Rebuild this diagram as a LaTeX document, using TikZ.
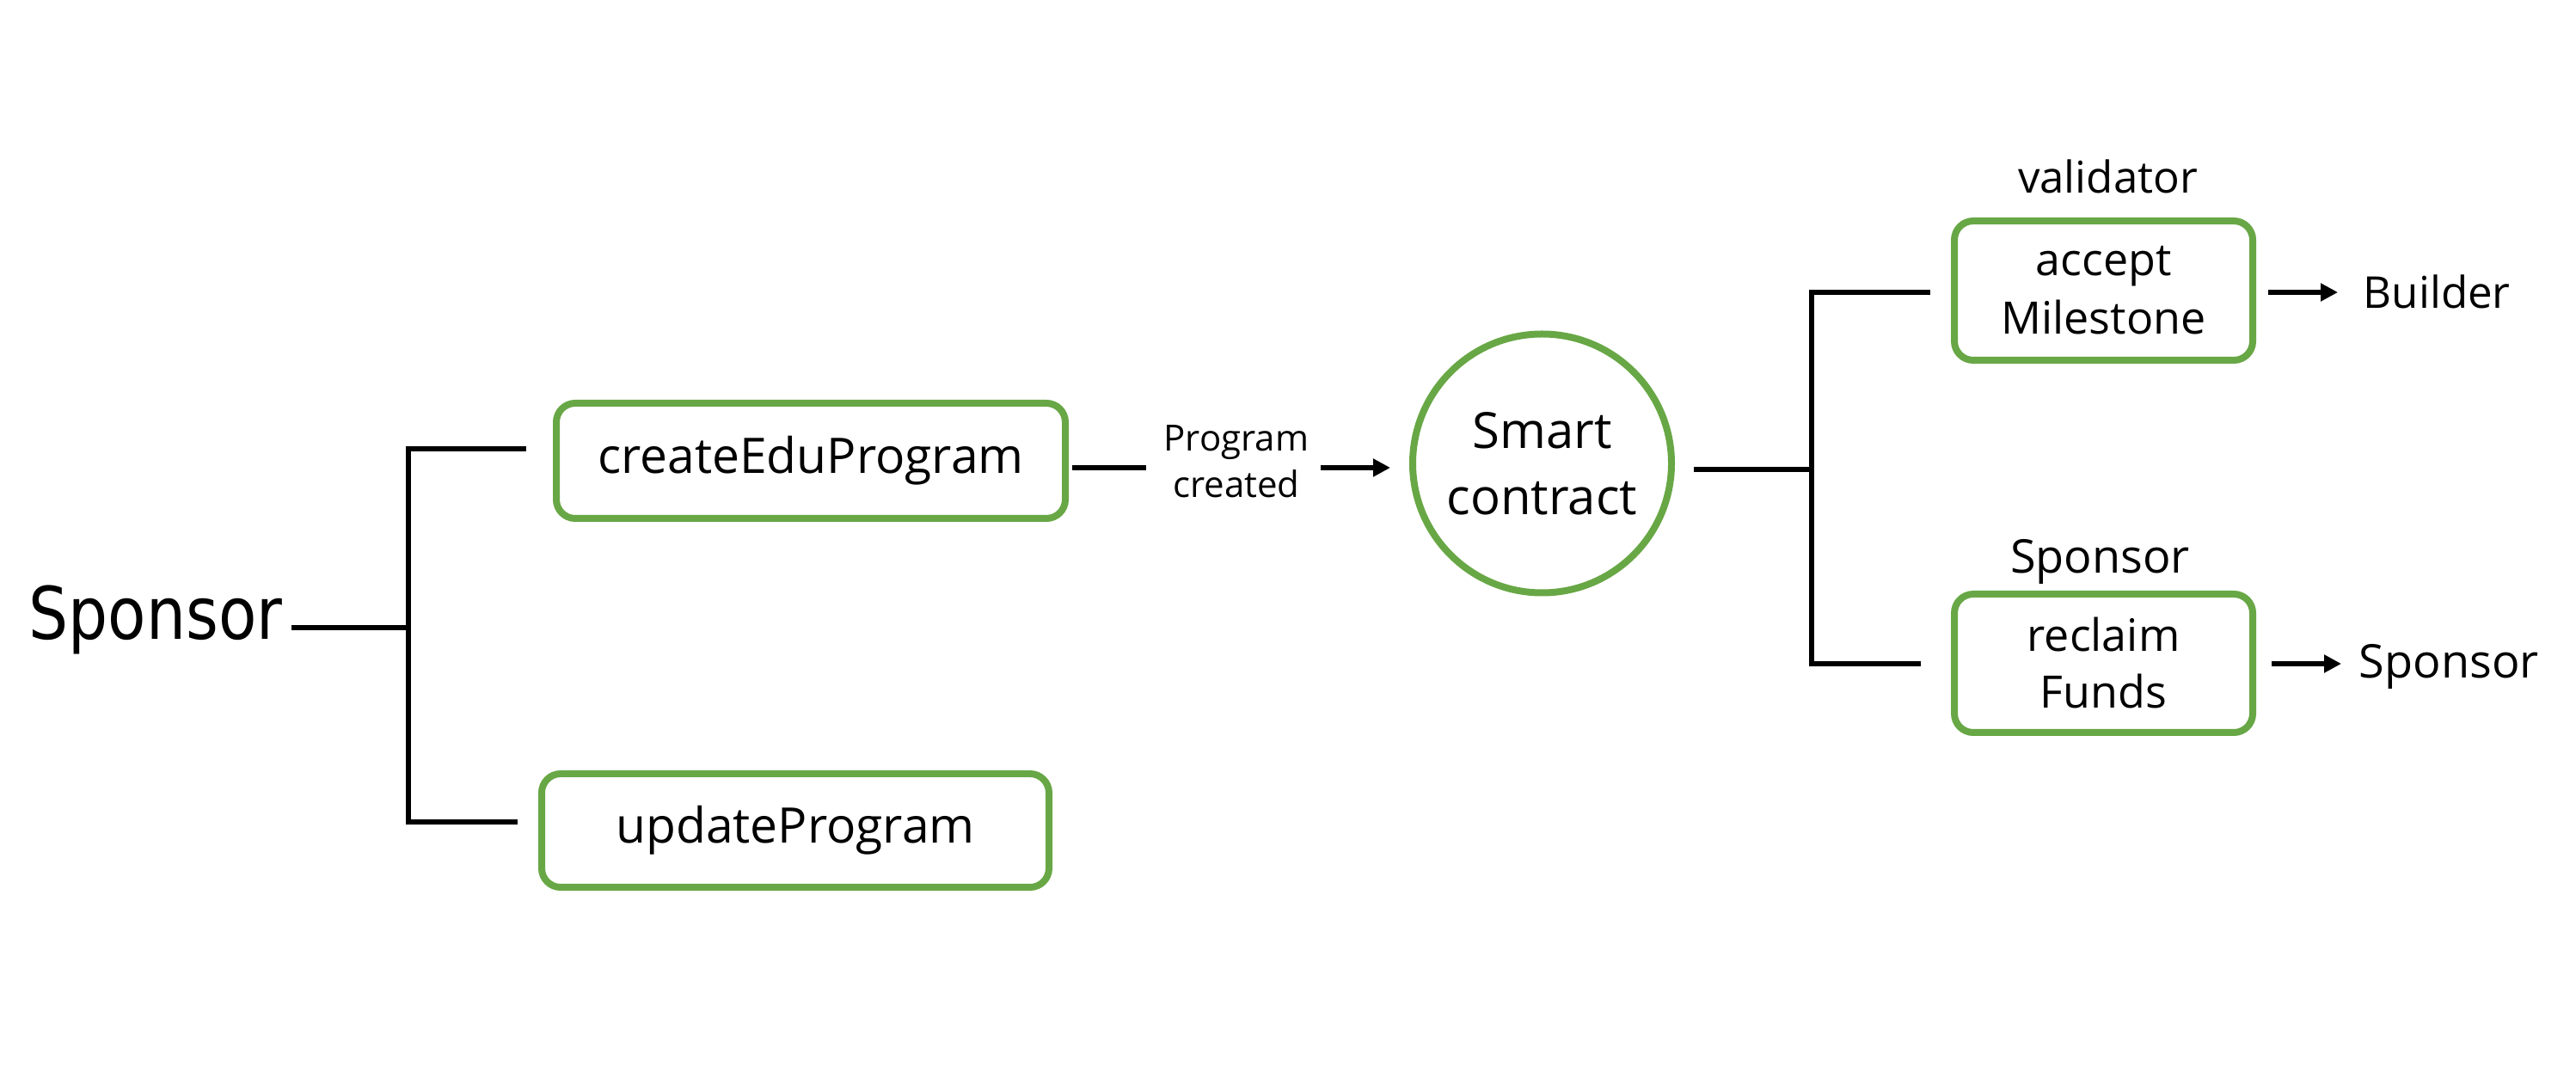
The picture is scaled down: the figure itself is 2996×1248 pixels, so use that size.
\documentclass[tikz,border=0pt]{standalone}
\usepackage{fontspec}
\setmainfont{Open Sans}
\newfontfamily\sponsorfont[FakeStretch=0.86]{DejaVu Sans}
\usetikzlibrary{arrows.meta,calc}
\definecolor{boxgreen}{RGB}{104,167,69}
\begin{document}
\begin{tikzpicture}[x=0.25pt,y=-0.25pt,
  fnbox/.style={draw=boxgreen, line width=2pt, rounded corners=5.5pt, fill=white, inner sep=0pt, align=center},
  scircle/.style={draw=boxgreen, line width=2pt, circle, fill=white, inner sep=0pt, align=center},
  conn/.style={line width=1.6pt, draw=black},
  arr/.style={conn, -{Triangle[length=5pt,width=5pt]}},
  lbl/.style={inner sep=0pt}]
\useasboundingbox (0,0) rectangle (2996,1248);

% boxes
\node[fnbox, minimum width=148pt, minimum height=33.5pt, font=\fontsize{14.25}{17}\selectfont] (create) at (943,536) {createEduProgram};
\node[fnbox, minimum width=147.5pt, minimum height=33pt, font=\fontsize{14.25}{17}\selectfont] (update) at (925,966) {updateProgram};
\node[scircle, minimum size=75.25pt, font=\fontsize{14.5}{19.25}\selectfont] (sc) at (1793.5,539) {Smart\\contract};
\node[fnbox, minimum width=86.75pt, minimum height=40.5pt, font=\fontsize{13}{17}\selectfont] (accept) at (2446.5,338) {accept\\Milestone};
\node[fnbox, minimum width=86.75pt, minimum height=40.25pt, font=\fontsize{13}{16.5}\selectfont] (reclaim) at (2446.5,771.5) {reclaim\\Funds};

% labels
\node[lbl, anchor=base west, font=\sponsorfont\fontsize{21.1}{25}\selectfont] (sponsorL) at (33,744) {Sponsor};
\node[lbl, align=center, font=\fontsize{10.5}{13.5}\selectfont] (pc) at (1438,537) {Program\\created};
\node[lbl, anchor=base, font=\fontsize{12.75}{15}\selectfont] (val) at (2451.5,225) {validator};
\node[lbl, anchor=base, font=\fontsize{13.5}{16}\selectfont] (spl) at (2442.5,667) {Sponsor};
\node[lbl, anchor=base west, font=\fontsize{12.75}{15}\selectfont] (builder) at (2748,359) {Builder};
\node[lbl, anchor=base west, font=\fontsize{13.5}{16}\selectfont] (sponsorR) at (2743,789) {Sponsor};

% left bracket
\coordinate (jL) at (475,730);
\coordinate (cL) at ($(create.west)+(-31,-14)$);
\coordinate (uL) at ($(update.west)+(-24,-10)$);
\draw[conn] (sponsorL.east |- jL) ++(10,0) -- (jL);
\draw[conn] (cL) -- (cL -| jL) -- (uL -| jL) -- (uL);

% program created
\draw[conn] ($(create.east)+(4,8)$) -- ($(pc.west)+(-20,7)$);
\draw[arr] ($(pc.east)+(13,7)$) -- ($(sc.west)+(-22,5)$);

% right bracket
\coordinate (jR) at (2107,546);
\coordinate (aL) at ($(accept.west)+(-24,2)$);
\coordinate (rL) at ($(reclaim.west)+(-35,0.5)$);
\draw[conn] (sc.east |- jR) ++(22,0) -- (jR);
\draw[conn] (aL) -- (aL -| jR) -- (rL -| jR) -- (rL);

% output arrows
\coordinate (a0) at ($(accept.east)+(14,2)$);
\coordinate (r0) at ($(reclaim.east)+(18,0.5)$);
\draw[arr] (a0) -- ($(builder.west |- a0)+(-29,0)$);
\draw[arr] (r0) -- ($(sponsorR.west |- r0)+(-20,0)$);
\end{tikzpicture}
\end{document}
